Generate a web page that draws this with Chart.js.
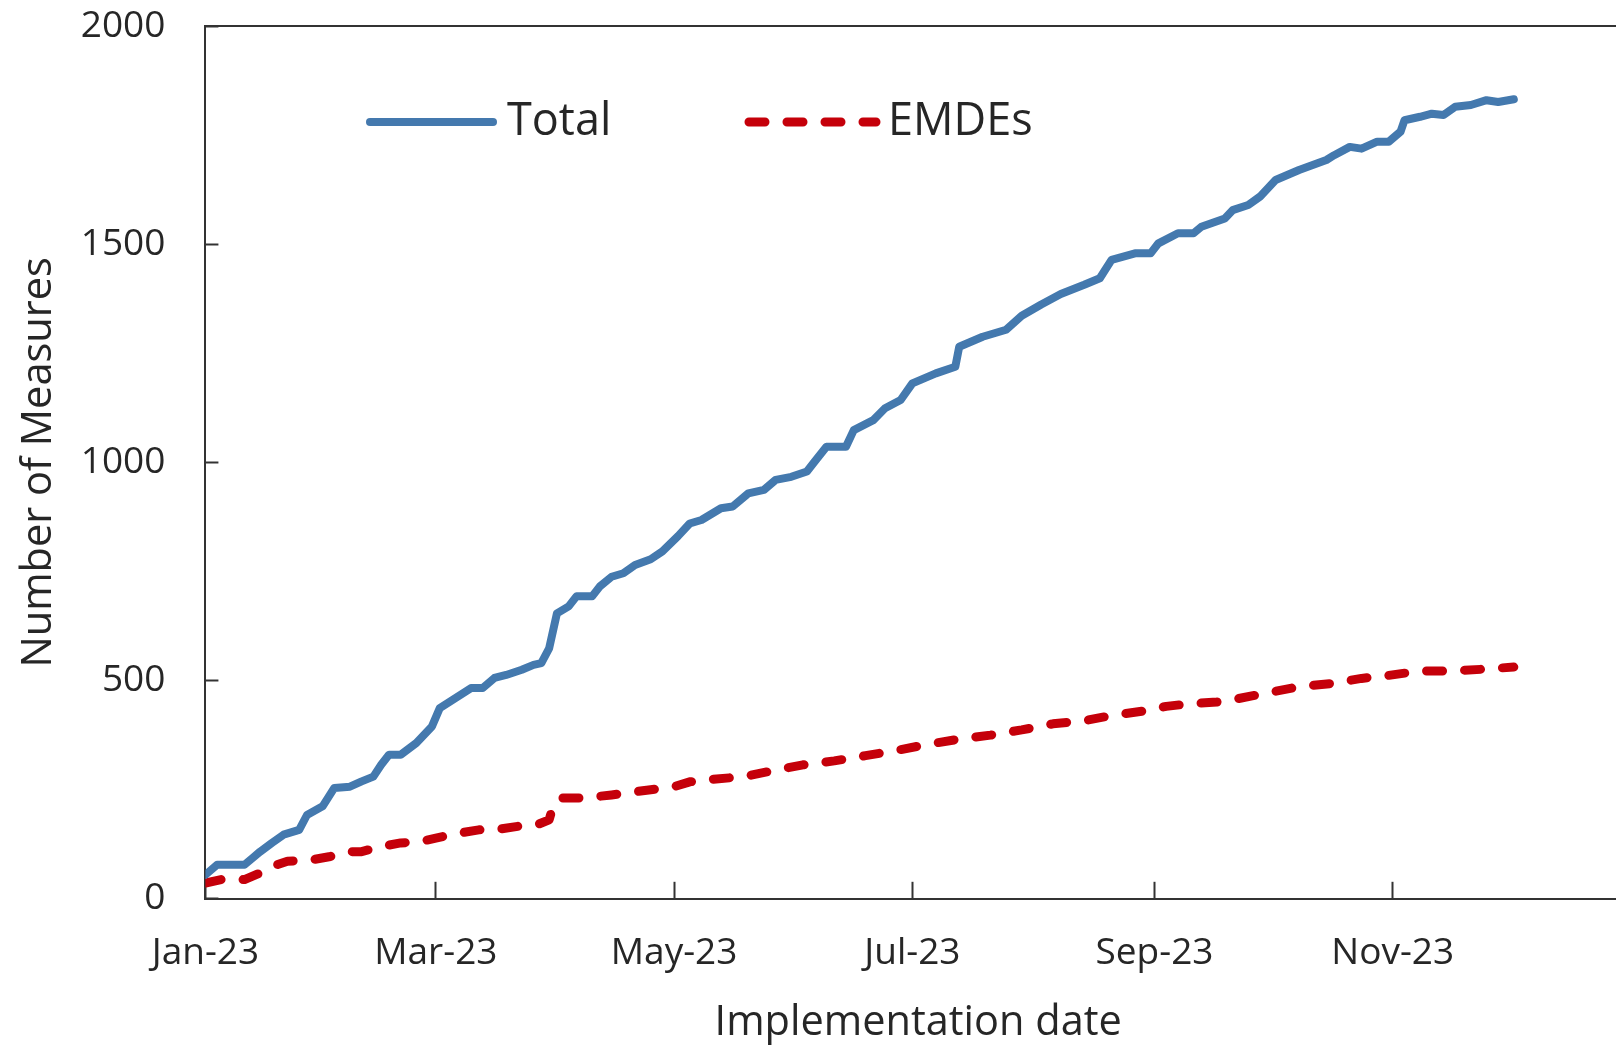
<!DOCTYPE html>
<html>
<head>
<meta charset="utf-8">
<script src="https://cdn.jsdelivr.net/npm/chart.js@4.4.1/dist/chart.umd.min.js"></script>
<style>
  html, body { margin: 0; padding: 0; background: #fff; overflow: hidden; }
  #wrap { width: 1632px; height: 1048px; }
</style>
</head>
<body>
<div id="wrap"><canvas id="measures"></canvas></div>
<script>
// days since 1 Jan 2023
const totalDays = [0, 3, 10, 12, 14, 17, 20, 24, 26, 30, 33, 37, 40, 43, 45, 47, 50, 54, 56, 58, 60, 64, 68, 71, 74, 77, 81, 84, 86, 88, 90, 93, 95, 99, 101, 104, 107, 110, 114, 117, 121, 124, 127, 132, 135, 139, 143, 146, 150, 154, 156, 159, 164, 166, 171, 174, 178, 181, 187, 192, 193, 199, 205, 209, 214, 219, 225, 229, 232, 238, 242, 244, 249, 253, 255, 261, 263, 267, 270, 274, 280, 287, 289, 293, 296, 300, 303, 306, 307, 311, 314, 317, 320, 324, 328, 331, 335];
const totalValues = [55, 78, 78, 93, 108, 128, 147, 158, 192, 212, 254, 257, 269, 280, 307, 330, 330, 357, 376, 395, 437, 460, 483, 483, 506, 513, 525, 536, 540, 574, 654, 670, 693, 693, 716, 738, 746, 765, 778, 796, 831, 860, 868, 895, 899, 929, 937, 960, 967, 979, 1002, 1036, 1036, 1074, 1097, 1124, 1143, 1181, 1204, 1219, 1265, 1288, 1304, 1336, 1362, 1386, 1407, 1422, 1464, 1479, 1479, 1502, 1525, 1525, 1540, 1559, 1578, 1590, 1609, 1647, 1670, 1693, 1704, 1723, 1719, 1735, 1735, 1758, 1784, 1792, 1799, 1796, 1815, 1819, 1830, 1826, 1832];

const emdeDays = [0, 4, 10, 14, 17, 21, 27, 32, 37, 40, 45, 50, 55, 59, 64, 70, 74, 80, 85, 88, 89, 91, 97, 104, 109, 114, 120, 124, 130, 138, 146, 153, 161, 169, 177, 185, 193, 201, 209, 217, 225, 232, 240, 246, 251, 259, 264, 272, 280, 288, 296, 303, 311, 319, 327, 335];
const emdeValues = [36, 44, 44, 59, 74, 86, 89, 97, 108, 108, 120, 128, 131, 139, 149, 158, 158, 166, 170, 181, 212, 231, 231, 238, 244, 250, 257, 268, 274, 280, 295, 307, 316, 328, 340, 354, 366, 375, 387, 401, 408, 420, 430, 441, 446, 451, 458, 472, 486, 493, 505, 512, 522, 522, 526, 531];

const tickDays = [0, 59, 120, 181, 243, 304];
const tickLabels = ["Jan-23", "Mar-23", "May-23", "Jul-23", "Sep-23", "Nov-23"];

const FONT = "'Open Sans', 'Noto Sans', sans-serif";
const TEXT = "#262626";
const AXIS = "#333333";

function toPoints(days, values) {
  return days.map((d, i) => ({ x: d, y: values[i] }));
}

// top frame line of the plot box
const topFrame = {
  id: "topFrame",
  afterDraw(chart) {
    const { ctx, chartArea } = chart;
    ctx.save();
    ctx.strokeStyle = AXIS;
    ctx.lineWidth = 2;
    ctx.beginPath();
    ctx.moveTo(chartArea.left, chartArea.top);
    ctx.lineTo(chartArea.right, chartArea.top);
    ctx.stroke();
    ctx.restore();
  },
};

// legend drawn inside the plot, like the original
const insideLegend = {
  id: "insideLegend",
  afterDatasetsDraw(chart) {
    const ctx = chart.ctx;
    const spots = [
      { x1: 370, x2: 493, tx: 507 },
      { x1: 749, x2: 876, tx: 888 },
    ];
    const y = 122;
    ctx.save();
    chart.data.datasets.forEach((ds, i) => {
      const s = spots[i];
      ctx.beginPath();
      ctx.lineWidth = ds.borderWidth;
      ctx.strokeStyle = ds.borderColor;
      ctx.lineCap = "round";
      ctx.setLineDash(ds.borderDash || []);
      ctx.moveTo(s.x1, y);
      ctx.lineTo(s.x2, y);
      ctx.stroke();
      ctx.setLineDash([]);
      ctx.fillStyle = TEXT;
      ctx.font = "45px " + FONT;
      ctx.textBaseline = "middle";
      ctx.fillText(ds.label, s.tx, y);
    });
    ctx.restore();
  },
};

const progressionChart = new Chart(document.getElementById("measures"), {
  type: "line",
  data: {
    datasets: [
      {
        label: "Total",
        data: toPoints(totalDays, totalValues),
        borderColor: "#4479AE",
        borderWidth: 8,
        borderCapStyle: "round",
        borderJoinStyle: "round",
        pointRadius: 0,
        tension: 0,
      },
      {
        label: "EMDEs",
        data: toPoints(emdeDays, emdeValues),
        borderColor: "#C5000A",
        borderWidth: 9,
        borderDash: [16, 22],
        borderCapStyle: "round",
        borderJoinStyle: "round",
        pointRadius: 0,
        tension: 0,
      },
    ],
  },
  options: {
    responsive: true,
    maintainAspectRatio: false,
    animation: false,
    layout: { padding: { top: 26, right: 1, left: 0, bottom: 0 } },
    plugins: {
      legend: { display: false },
      tooltip: { enabled: false },
    },
    scales: {
      x: {
        type: "linear",
        min: 0,
        max: 365,
        afterBuildTicks: (scale) => {
          scale.ticks = tickDays.map((v) => ({ value: v }));
        },
        ticks: {
          callback: (value) => tickLabels[tickDays.indexOf(value)],
          font: { family: FONT, size: 37 },
          color: TEXT,
          padding: 49,
          maxRotation: 0,
          autoSkip: false,
        },
        grid: {
          drawOnChartArea: false,
          tickLength: -17,
          tickWidth: 2,
          tickColor: AXIS,
        },
        border: { color: AXIS, width: 2 },
        title: {
          display: true,
          text: "Implementation date",
          font: { family: FONT, size: 41.5 },
          color: TEXT,
          padding: { top: -26, bottom: 0 },
        },
      },
      y: {
        min: 0,
        max: 2000,
        afterFit: (scale) => {
          scale.paddingTop = 0;
        },
        ticks: {
          stepSize: 500,
          callback: (value) => String(value),
          font: { family: FONT, size: 37 },
          color: TEXT,
          padding: 53,
        },
        grid: {
          drawOnChartArea: false,
          tickLength: -13,
          tickWidth: 2,
          tickColor: AXIS,
        },
        border: { color: AXIS, width: 2 },
        title: {
          display: true,
          text: "Number of Measures",
          font: { family: FONT, size: 41.5 },
          color: TEXT,
          padding: { top: 14, bottom: -36 },
        },
      },
    },
  },
  plugins: [topFrame, insideLegend],
});
</script>
</body>
</html>
